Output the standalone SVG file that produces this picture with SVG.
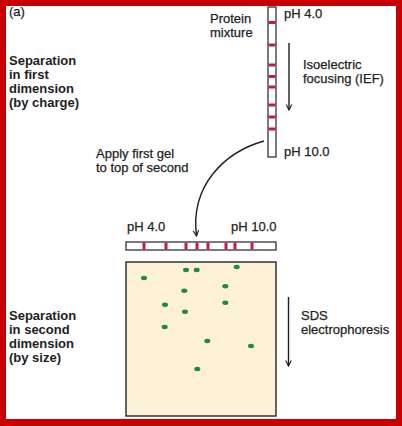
<svg xmlns="http://www.w3.org/2000/svg" width="402" height="426" viewBox="0 0 402 426">
<defs>
<style>
text{font-family:"Liberation Sans",Arial,sans-serif;font-size:13px;fill:#1e1e1e;stroke:#1e1e1e;stroke-width:0.25}
.b{font-weight:bold;stroke:none}
.gel{fill:#fff;stroke:#333;stroke-width:1.3}
.band{fill:#c2185b}
.spot{fill:#1f8a3e}
.arr{fill:none;stroke:#1e1e1e;stroke-width:1.4}
</style>
<marker id="ah" viewBox="0 0 10 10" refX="9" refY="5" markerWidth="7" markerHeight="7" orient="auto" markerUnits="userSpaceOnUse">
<path d="M1,1 L9,5 L1,9" fill="none" stroke="#1e1e1e" stroke-width="1.6"/>
</marker>
</defs>
<rect x="0" y="0" width="402" height="426" fill="#c80000"/>
<rect x="6" y="6" width="390" height="413" fill="#fff"/>

<text x="9" y="16">(a)</text>

<g id="label-first">
<text class="b" x="9" y="65">Separation</text>
<text class="b" x="9" y="79">in first</text>
<text class="b" x="9" y="93">dimension</text>
<text class="b" x="9" y="107">(by charge)</text>
</g>

<g id="first-gel">
<rect class="gel" x="268" y="7" width="8" height="150"/>
<rect class="band" x="268.6" y="21" width="6.8" height="3"/>
<rect class="band" x="268.6" y="43.5" width="6.8" height="3"/>
<rect class="band" x="268.6" y="63.5" width="6.8" height="3"/>
<rect class="band" x="268.6" y="75" width="6.8" height="3"/>
<rect class="band" x="268.6" y="85.5" width="6.8" height="3"/>
<rect class="band" x="268.6" y="103.5" width="6.8" height="3"/>
<rect class="band" x="268.6" y="115.5" width="6.8" height="3"/>
<rect class="band" x="268.6" y="127.5" width="6.8" height="3"/>
<text x="210" y="23">Protein</text>
<text x="210" y="37">mixture</text>
<text x="284" y="18">pH 4.0</text>
<text x="284" y="156">pH 10.0</text>
</g>

<g id="ief-label">
<text x="303" y="69">Isoelectric</text>
<text x="303" y="83">focusing (IEF)</text>
</g>

<g id="apply-label">
<text x="96" y="158">Apply first gel</text>
<text x="96" y="172">to top of second</text>
</g>

<g id="second-gel-strip">
<text x="127" y="231">pH 4.0</text>
<text x="231" y="231">pH 10.0</text>
<rect class="gel" x="126" y="242" width="150" height="8"/>
<rect class="band" x="142.5" y="242.6" width="3" height="6.8"/>
<rect class="band" x="164.5" y="242.6" width="3" height="6.8"/>
<rect class="band" x="184.5" y="242.6" width="3" height="6.8"/>
<rect class="band" x="195.5" y="242.6" width="3" height="6.8"/>
<rect class="band" x="206.5" y="242.6" width="3" height="6.8"/>
<rect class="band" x="224.5" y="242.6" width="3" height="6.8"/>
<rect class="band" x="233.5" y="242.6" width="3" height="6.8"/>
<rect class="band" x="250.5" y="242.6" width="3" height="6.8"/>
</g>

<g id="slab-gel">
<rect x="126" y="262" width="150" height="154" fill="#fcf0d7" stroke="#333" stroke-width="1.5"/>
<ellipse class="spot" cx="186" cy="270" rx="3" ry="2.2"/>
<ellipse class="spot" cx="196.7" cy="270" rx="3" ry="2.2"/>
<ellipse class="spot" cx="236.7" cy="267" rx="3" ry="2.2"/>
<ellipse class="spot" cx="144" cy="278" rx="3" ry="2.2"/>
<ellipse class="spot" cx="225.3" cy="286.3" rx="3" ry="2.2"/>
<ellipse class="spot" cx="184.3" cy="290.7" rx="3" ry="2.2"/>
<ellipse class="spot" cx="165" cy="304.7" rx="3" ry="2.2"/>
<ellipse class="spot" cx="225.3" cy="302.7" rx="3" ry="2.2"/>
<ellipse class="spot" cx="185" cy="311.7" rx="3" ry="2.2"/>
<ellipse class="spot" cx="164.7" cy="327" rx="3" ry="2.2"/>
<ellipse class="spot" cx="207.3" cy="341" rx="3" ry="2.2"/>
<ellipse class="spot" cx="251" cy="346" rx="3" ry="2.2"/>
<ellipse class="spot" cx="197.3" cy="369" rx="3" ry="2.2"/>
</g>

<g id="label-second">
<text class="b" x="9" y="320">Separation</text>
<text class="b" x="9" y="334">in second</text>
<text class="b" x="9" y="348">dimension</text>
<text class="b" x="9" y="362">(by size)</text>
</g>

<g id="sds-label">
<text x="301" y="320">SDS</text>
<text x="301" y="334">electrophoresis</text>
</g>

<g id="connectors">
<line class="arr" x1="289" y1="43" x2="289" y2="110" marker-end="url(#ah)"/>
<path class="arr" d="M264,141 C225,152 190,185 196.5,236" marker-end="url(#ah)"/>
<line class="arr" x1="288.5" y1="297" x2="288.5" y2="366" marker-end="url(#ah)"/>
</g>
</svg>
